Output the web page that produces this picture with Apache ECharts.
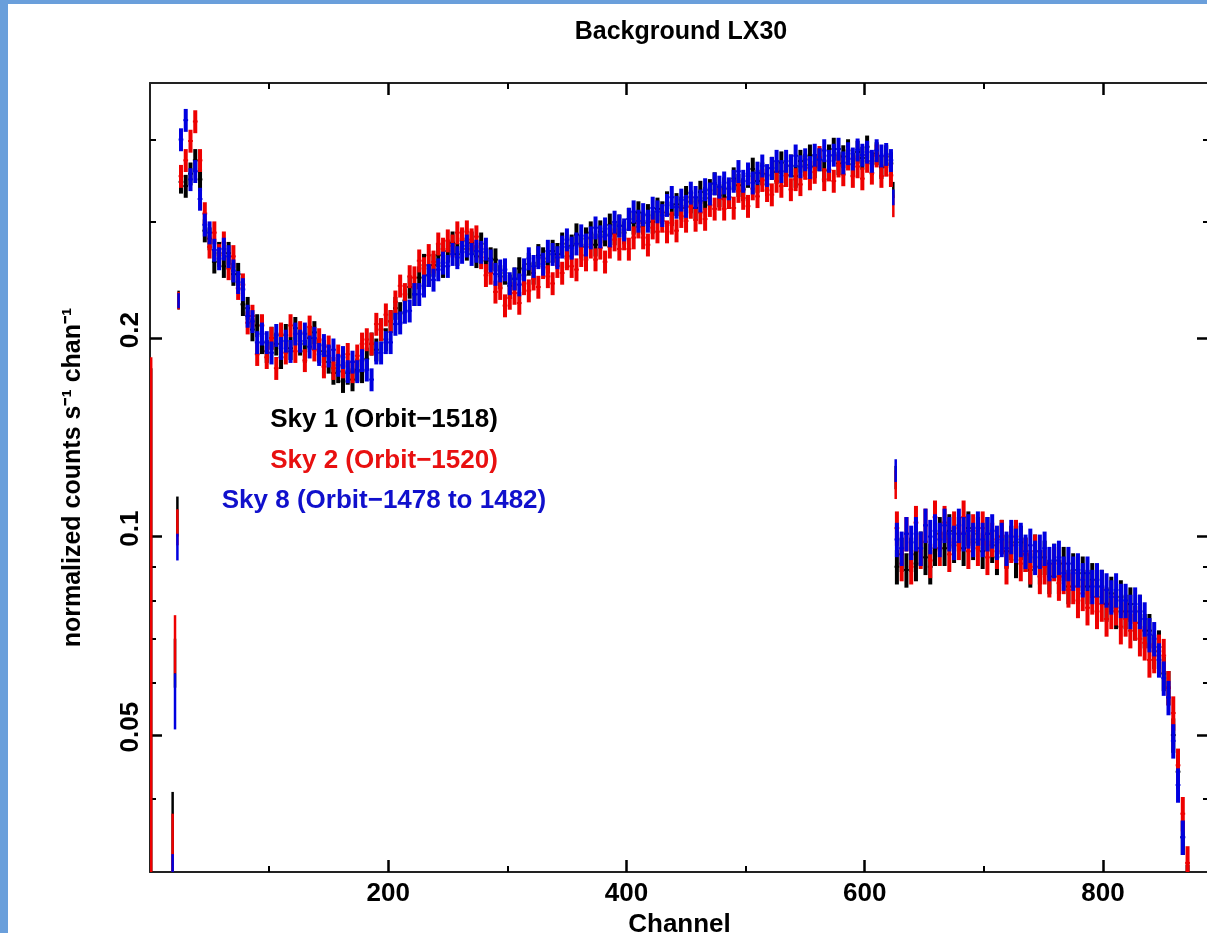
<!DOCTYPE html>
<html>
<head>
<meta charset="utf-8">
<script src="https://cdn.jsdelivr.net/npm/echarts@6/dist/echarts.min.js"></script>
<style>
html,body{margin:0;padding:0;background:#ffffff;}
#chart{width:1207px;height:933px;}
</style>
</head>
<body>
<div id="chart"></div>
<script>
// ---------- tick labels / categories ----------
const xMajorTicks = [200, 400, 600, 800];
const xMinorTicks = [100, 300, 500, 700];
const yMajorTicks = [0.05, 0.1, 0.2];
const yMinorTicks = [0.04, 0.06, 0.07, 0.08, 0.09, 0.3, 0.4];
const seriesNames = ['Sky 1 (Orbit\u22121518)', 'Sky 2 (Orbit\u22121520)', 'Sky 8 (Orbit\u22121478 to 1482)'];

// channel layout of the binned spectra
const UPPER_START = 26;   // first channel of the high band
const LOWER_START = 627;  // first channel of the low band
const STEP = 4;           // channels per bin
const ERR_UPPER = 0.04;   // relative 1-sigma error, high band
const ERR_LOWER = 0.06;   // relative 1-sigma error, low band

// ---------- series values (normalized counts s^-1 chan^-1) ----------
const sky1Upper = [0.345,0.340,0.355,0.372,0.348,
0.291,0.283,0.261,0.269,0.257,0.269,0.250,
0.250,0.225,0.222,0.206,0.209,0.197,0.191,0.200,0.196,0.187,0.202,0.193,0.207,0.196,0.191,0.200,0.204,0.191,0.191,
0.184,0.177,0.178,0.172,0.177,0.173,0.179,0.178,
0.186,0.196,0.192,0.206,0.199,0.212,0.222,0.218,0.228,0.239,0.233,0.247,0.258,0.249,0.258,0.267,0.257,0.271,0.279,0.268,0.281,0.273,0.279,0.266,
0.278,0.262,0.264,0.263,0.248,0.251,0.240,0.246,0.255,0.249,
0.259,0.251,0.267,0.264,0.261,0.271,0.268,0.278,0.266,0.276,
0.287,0.275,0.283,0.289,0.277,0.290,0.287,0.297,0.288,0.296,
0.289,0.303,0.299,0.310,0.299,0.307,0.300,0.314,0.310,0.321,
0.308,0.319,0.315,0.327,0.322,0.315,0.333,0.326,0.335,0.343,0.329,
0.337,0.327,0.349,0.341,0.336,0.352,0.361,0.346,0.355,0.342,
0.362,0.357,0.369,0.353,0.365,0.352,0.371,0.366,0.378,0.364,
0.373,0.359,0.378,0.387,0.368,0.377,0.385,0.367,0.383,0.375,
0.390,0.368,0.381,0.363,0.377,0.368];
const sky2Upper = [0.352,0.372,0.398,0.426,0.372,
0.309,0.275,0.289,0.267,0.279,0.255,0.266,
0.238,0.241,0.211,0.216,0.189,0.209,0.187,0.200,0.180,0.203,0.190,0.209,0.191,0.204,0.185,0.208,0.192,0.199,0.181,
0.194,0.180,0.188,0.181,0.189,0.178,0.188,0.196,
0.199,0.196,0.210,0.206,0.217,0.212,0.227,0.240,0.233,0.248,0.247,0.262,0.255,0.267,0.261,0.278,0.273,0.281,0.276,0.289,0.283,0.290,0.282,0.285,
0.265,0.249,0.251,0.235,0.238,0.224,0.230,0.234,0.226,0.242,
0.236,0.246,0.239,0.256,0.248,0.242,0.257,0.251,0.264,0.257,
0.254,0.267,0.263,0.275,0.263,0.274,0.261,0.275,0.282,0.273,
0.283,0.273,0.284,0.295,0.284,0.277,0.294,0.290,0.301,0.290,
0.299,0.291,0.306,0.301,0.316,0.302,0.310,0.303,0.318,0.314,0.325,
0.314,0.327,0.315,0.334,0.326,0.317,0.337,0.328,0.347,0.335,
0.330,0.346,0.340,0.353,0.336,0.348,0.342,0.362,0.349,0.357,
0.376,0.348,0.360,0.346,0.365,0.354,0.374,0.352,0.364,0.349,
0.371,0.356,0.378,0.352,0.366,0.353];
const sky8Upper = [0.400,0.428,0.348,0.358,0.325,
0.297,0.289,0.272,0.264,0.273,0.266,0.253,
0.243,0.237,0.216,0.212,0.197,0.203,0.197,0.190,0.202,0.193,0.198,0.191,0.203,0.198,0.203,0.194,0.200,0.189,0.195,
0.188,0.192,0.182,0.187,0.178,0.184,0.178,0.185,
0.179,0.173,0.190,0.190,0.197,0.197,0.210,0.211,0.219,0.220,0.233,0.233,0.240,0.249,0.245,0.254,0.260,0.257,0.268,0.265,0.270,0.276,0.268,0.271,
0.270,0.273,0.262,0.250,0.253,0.254,0.242,0.246,0.241,0.254,
0.264,0.257,0.265,0.259,0.271,0.268,0.265,0.275,0.282,0.274,
0.278,0.286,0.277,0.284,0.294,0.285,0.293,0.286,0.300,0.296,
0.292,0.303,0.311,0.301,0.308,0.301,0.315,0.311,0.307,0.318,
0.327,0.316,0.324,0.317,0.332,0.327,0.323,0.336,0.331,0.343,0.339,
0.344,0.337,0.346,0.358,0.346,0.355,0.344,0.356,0.365,0.353,
0.362,0.371,0.358,0.371,0.365,0.378,0.364,0.373,0.363,0.379,
0.373,0.385,0.371,0.379,0.387,0.369,0.381,0.374,0.386,0.379,
0.383,0.371,0.385,0.378,0.380,0.372];

const sky1Lower = [0.090,0.094,0.089,0.094,0.091,0.096,0.093,0.090,0.096,
0.101,0.096,0.102,0.097,0.101,0.096,0.103,0.098,0.101,0.095,
0.101,0.097,0.093,0.100,0.095,0.098,0.092,0.098,0.094,0.089,
0.095,0.090,0.093,0.087,0.092,0.087,0.091,0.084,0.089,0.084,
0.088,0.084,0.086,0.081,0.084,0.079,0.082,0.077,0.081,0.077,
0.079,0.074,0.077,0.072,0.072,0.067,0.068,0.062,0.059,0.050,
0.044,0.035,0.030];
const sky2Lower = [0.103,0.091,0.101,0.090,0.105,0.095,0.104,0.092,0.107,
0.096,0.105,0.094,0.103,0.098,0.107,0.095,0.102,0.096,0.103,
0.093,0.099,0.095,0.100,0.090,0.097,0.100,0.091,0.094,0.090,
0.095,0.087,0.090,0.086,0.091,0.085,0.087,0.083,0.084,0.080,
0.082,0.078,0.081,0.077,0.079,0.075,0.077,0.078,0.073,0.075,
0.072,0.074,0.070,0.069,0.065,0.066,0.067,0.066,0.059,0.054,
0.045,0.038,0.032];
const sky8Lower = [0.099,0.096,0.101,0.098,0.101,0.096,0.104,0.100,0.102,
0.099,0.104,0.101,0.098,0.104,0.101,0.102,0.099,0.103,0.099,
0.101,0.102,0.098,0.099,0.096,0.100,0.097,0.099,0.095,0.097,
0.093,0.095,0.096,0.091,0.092,0.093,0.088,0.091,0.088,0.089,
0.086,0.088,0.084,0.086,0.084,0.083,0.081,0.083,0.080,0.080,
0.077,0.079,0.077,0.075,0.071,0.070,0.065,0.061,0.057,0.049,
0.042,0.035,0.029];

// isolated single channels: [channel, value, lower bound, upper bound]
const sky1Points = [[1,0.075,0.012,0.180],[19,0.038,0.030,0.041],[21,0.065,0.059,0.070],[23,0.107,0.100,0.115],[24,0.229,0.221,0.236],[624,0.336,0.326,0.345],[626,0.123,0.118,0.128]];
const sky2Points = [[1,0.080,0.012,0.187],[19,0.035,0.027,0.038],[21,0.069,0.062,0.076],[23,0.103,0.097,0.110],[24,0.228,0.221,0.235],[624,0.318,0.305,0.330],[626,0.120,0.114,0.126]];
const sky8Points = [[19,0.028,0.024,0.033],[21,0.056,0.051,0.062],[23,0.097,0.092,0.101],[24,0.228,0.222,0.234],[624,0.327,0.318,0.336],[626,0.126,0.121,0.131]];

// ---------- styles ----------
const FONT = "'Liberation Sans', Arial, Helvetica, sans-serif";
const seriesColors = ['#000000', '#ee0000', '#0000e0'];
const legendColors = ['#000000', '#e81010', '#1010cc'];

function buildData(upper, lower, points) {
  const out = [];
  points.forEach(p => out.push([p[0], p[1], p[2], p[3], 0.5]));
  upper.forEach((v, i) => {
    out.push([UPPER_START + i * STEP, v, v * (1 - ERR_UPPER), v * (1 + ERR_UPPER), STEP / 2]);
  });
  lower.forEach((v, i) => {
    out.push([LOWER_START + i * STEP, v, v * (1 - ERR_LOWER), v * (1 + ERR_LOWER), STEP / 2]);
  });
  return out;
}

function errorBar(color) {
  return function (params, api) {
    const ch = api.value(0), v = api.value(1), lo = api.value(2), hi = api.value(3), hw = api.value(4);
    const top = api.coord([ch, hi]);
    const bot = api.coord([ch, lo]);
    const l = api.coord([ch - hw, v]);
    const r = api.coord([ch + hw, v]);
    const w = hw > 1 ? 4 : 2.5;
    return {
      type: 'group',
      children: [
        { type: 'line', shape: { x1: top[0], y1: top[1], x2: bot[0], y2: bot[1] }, style: { stroke: color, lineWidth: w } },
        { type: 'line', shape: { x1: l[0], y1: l[1], x2: r[0], y2: r[1] }, style: { stroke: color, lineWidth: 2 } }
      ]
    };
  };
}

const allData = [
  buildData(sky1Upper, sky1Lower, sky1Points),
  buildData(sky2Upper, sky2Lower, sky2Points),
  buildData(sky8Upper, sky8Lower, sky8Points)
];

const X_MIN = 0, X_MAX = 889;
const Y_MIN = 0.031, Y_MAX = 0.4873;
const frameLine = { show: true, onZero: false, lineStyle: { color: '#222222', width: 2 } };
const noLine = { show: false, onZero: false };
const majorTickStyle = { color: '#000000', width: 2.5 };
const minorTickStyle = { color: '#000000', width: 2 };
const textBase = { fontSize: 26, fontWeight: 'bold', fontFamily: FONT, color: '#000000' };

function xAxisDef(position, ticks, len, withLine, withLabel) {
  return {
    type: 'value', position: position, min: X_MIN, max: X_MAX, gridIndex: 0,
    axisLine: withLine ? frameLine : noLine,
    axisTick: { show: true, inside: true, length: len, customValues: ticks, lineStyle: len > 8 ? majorTickStyle : minorTickStyle },
    axisLabel: withLabel ? Object.assign({ customValues: ticks, margin: 9 }, textBase) : { show: false },
    splitLine: { show: false }
  };
}
function yAxisDef(position, ticks, len, withLine, withLabel) {
  return {
    type: 'log', logBase: 10, position: position, min: Y_MIN, max: Y_MAX, gridIndex: 0,
    axisLine: withLine ? frameLine : noLine,
    axisTick: { show: true, inside: true, length: len, customValues: ticks, lineStyle: len > 8 ? majorTickStyle : minorTickStyle },
    axisLabel: withLabel ? Object.assign({ customValues: ticks, rotate: 90, margin: 6, padding: [0, 0, 0, 16], formatter: v => String(+(+v).toPrecision(3)) }, textBase) : { show: false },
    splitLine: { show: false },
    minorTick: { show: false }
  };
}

const xAxes = [
  Object.assign(xAxisDef('bottom', xMajorTicks, 12, true, true), {
    name: 'Channel', nameLocation: 'middle', nameGap: 28, nameTextStyle: textBase
  }),
  xAxisDef('bottom', xMinorTicks, 6, false, false),
  xAxisDef('top', xMajorTicks, 12, true, false),
  xAxisDef('top', xMinorTicks, 6, false, false)
];
const yAxes = [
  Object.assign(yAxisDef('left', yMajorTicks, 12, true, true), {
    name: 'normalized counts s\u207B\u00B9 chan\u207B\u00B9', nameLocation: 'middle', nameGap: 64, nameRotate: 90,
    nameTextStyle: Object.assign({}, textBase, { fontSize: 25 })
  }),
  yAxisDef('left', yMinorTicks, 6, false, false),
  yAxisDef('right', yMajorTicks, 12, true, false),
  yAxisDef('right', yMinorTicks, 6, false, false)
];

const legendY = [420, 461, 501];

const chart = echarts.init(document.getElementById('chart'), null, { renderer: 'canvas' });
chart.setOption({
  backgroundColor: '#ffffff',
  animation: false,
  title: {
    text: 'Background LX30', left: 676, textAlign: 'center', top: 15,
    textStyle: { fontSize: 25, fontWeight: 'bold', fontFamily: FONT, color: '#000000' }
  },
  grid: { left: 150, top: 83, right: -2, bottom: 61, containLabel: false, outerBoundsMode: 'none' },
  xAxis: xAxes,
  yAxis: yAxes,
  series: allData.map((d, k) => ({
    type: 'custom', name: seriesNames[k], data: d, clip: true, silent: true,
    xAxisIndex: 0, yAxisIndex: 0,
    encode: { x: 0, y: [1, 2, 3] },
    itemStyle: { color: seriesColors[k] },
    renderItem: errorBar(seriesColors[k])
  })),
  graphic: [
    { type: 'rect', left: 0, top: 0, shape: { width: 8, height: 933 }, style: { fill: '#6a9fdb' }, z: 100 },
    { type: 'rect', left: 0, top: 0, shape: { width: 1207, height: 4 }, style: { fill: '#6a9fdb' }, z: 100 }
  ].concat(seriesNames.map((n, k) => ({
    type: 'text', x: 384, y: legendY[k], z: 50,
    style: { text: n, fill: legendColors[k], fontSize: 26, fontWeight: 'bold', fontFamily: FONT, align: 'center', verticalAlign: 'middle' }
  })))
});
</script>
</body>
</html>
